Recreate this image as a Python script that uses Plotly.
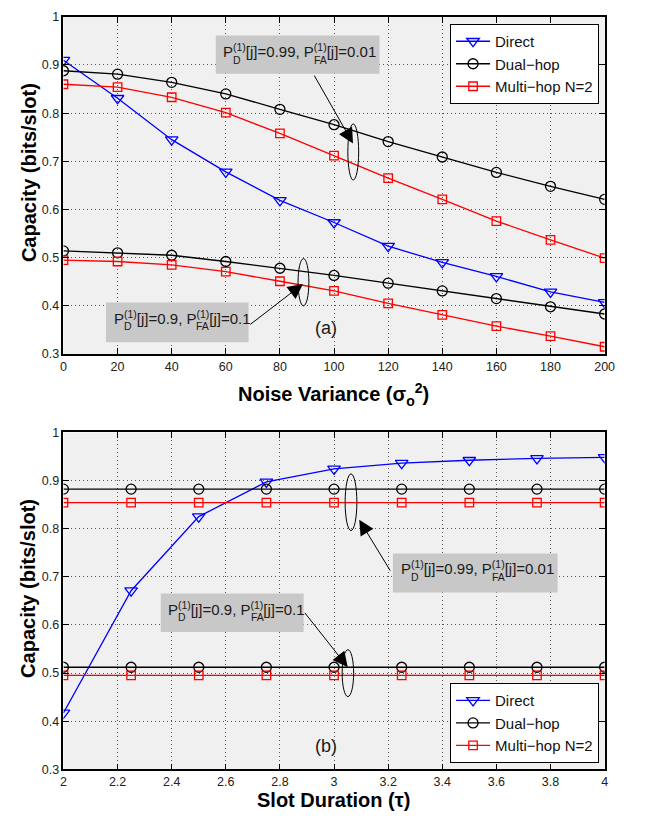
import plotly.graph_objects as go

# ---------------- data ----------------
noise_var = [0, 20, 40, 60, 80, 100, 120, 140, 160, 180, 200]
direct_a = [0.910, 0.831, 0.745, 0.678, 0.619, 0.573, 0.524, 0.490, 0.461, 0.429, 0.407]
dual_a_hi = [0.888, 0.881, 0.864, 0.840, 0.808, 0.776, 0.741, 0.709, 0.677, 0.648, 0.621]
multi_a_hi = [0.860, 0.854, 0.833, 0.801, 0.758, 0.712, 0.665, 0.621, 0.576, 0.537, 0.499]
dual_a_lo = [0.514, 0.510, 0.505, 0.492, 0.478, 0.463, 0.447, 0.431, 0.415, 0.398, 0.383]
multi_a_lo = [0.495, 0.492, 0.485, 0.471, 0.451, 0.431, 0.405, 0.381, 0.358, 0.337, 0.315]

slot_dur = [2, 2.25, 2.5, 2.75, 3, 3.25, 3.5, 3.75, 4]
direct_b = [0.417, 0.671, 0.825, 0.897, 0.924, 0.936, 0.942, 0.946, 0.948]
dual_b_hi = [0.882, 0.882, 0.882, 0.882, 0.882, 0.882, 0.882, 0.882, 0.882]
multi_b_hi = [0.854, 0.854, 0.854, 0.854, 0.854, 0.854, 0.854, 0.854, 0.854]
dual_b_lo = [0.512, 0.512, 0.512, 0.512, 0.512, 0.512, 0.512, 0.512, 0.512]
multi_b_lo = [0.495, 0.495, 0.495, 0.495, 0.495, 0.495, 0.495, 0.495, 0.495]

series_names = ["Direct", "Dual\u2212hop", "Multi\u2212hop N=2"]
yticks = [0.3, 0.4, 0.5, 0.6, 0.7, 0.8, 0.9, 1.0]
ytick_text = ["0.3", "0.4", "0.5", "0.6", "0.7", "0.8", "0.9", "1"]
xticks_a = [0, 20, 40, 60, 80, 100, 120, 140, 160, 180, 200]
xticks_b = [2, 2.2, 2.4, 2.6, 2.8, 3, 3.2, 3.4, 3.6, 3.8, 4]
xtick_text_b = ["2", "2.2", "2.4", "2.6", "2.8", "3", "3.2", "3.4", "3.6", "3.8", "4"]

W, H = 645, 821


def px(x):
    return x / W


def py(y):
    return 1 - y / H


ARIAL = "Liberation Sans, Arial, Helvetica, sans-serif"

fig = go.Figure()

styles = [
    dict(color="#0000ff", symbol="triangle-down-open", size=11),
    dict(color="#000000", symbol="circle-open", size=10),
    dict(color="#ff0000", symbol="square-open", size=8.5),
]


def add(x, y, k, xa, ya, legend, show):
    s = styles[k]
    fig.add_trace(go.Scatter(
        x=x, y=y, mode="lines+markers", name=series_names[k],
        xaxis=xa, yaxis=ya, legend=legend, showlegend=show,
        line=dict(color=s["color"], width=1.3),
        marker=dict(symbol=s["symbol"], size=s["size"], color=s["color"],
                    line=dict(color=s["color"], width=1.3)),
    ))


add(noise_var, direct_a, 0, "x", "y", "legend", True)
add(noise_var, dual_a_hi, 1, "x", "y", "legend", True)
add(noise_var, multi_a_hi, 2, "x", "y", "legend", True)
add(noise_var, dual_a_lo, 1, "x", "y", "legend", False)
add(noise_var, multi_a_lo, 2, "x", "y", "legend", False)

add(slot_dur, direct_b, 0, "x2", "y2", "legend2", True)
add(slot_dur, dual_b_hi, 1, "x2", "y2", "legend2", True)
add(slot_dur, multi_b_hi, 2, "x2", "y2", "legend2", True)
add(slot_dur, dual_b_lo, 1, "x2", "y2", "legend2", False)
add(slot_dur, multi_b_lo, 2, "x2", "y2", "legend2", False)

xdom = [px(61.7), px(614)]
ydom_a = [py(353), py(10)]
ydom_b = [py(775.5), py(432.7)]

axcommon = dict(
    showline=True, linecolor="black", linewidth=1.5, mirror="ticks",
    ticks="inside", ticklen=6, tickcolor="black", tickwidth=1,
    showgrid=True, gridcolor="#555555", gridwidth=1, griddash="1px,3px",
    zeroline=False, tickfont=dict(family=ARIAL, size=12.5, color="#222222"),
)

legfont = dict(family=ARIAL, size=15, color="#111111")
fig.update_layout(
    width=W, height=H,
    margin=dict(l=0, r=0, t=0, b=0),
    paper_bgcolor="white", plot_bgcolor="#f0f0f0",
    xaxis=dict(domain=xdom, anchor="y", range=[0, 200], tickvals=xticks_a, **axcommon),
    yaxis=dict(domain=ydom_a, anchor="x", range=[0.3, 1.0], tickvals=yticks,
               ticktext=ytick_text, **axcommon),
    xaxis2=dict(domain=xdom, anchor="y2", range=[2, 4], tickvals=xticks_b,
                ticktext=xtick_text_b, **axcommon),
    yaxis2=dict(domain=ydom_b, anchor="x2", range=[0.3, 1.0], tickvals=yticks,
                ticktext=ytick_text, **axcommon),
    legend=dict(x=px(608.3), xanchor="right", y=py(17.3), yanchor="top",
                bgcolor="white", bordercolor="black", borderwidth=1,
                font=legfont, itemwidth=34, tracegroupgap=0),
    legend2=dict(x=px(608.3), xanchor="right", y=py(769.3), yanchor="bottom",
                 bgcolor="white", bordercolor="black", borderwidth=1,
                 font=legfont, itemwidth=34, tracegroupgap=0),
    showlegend=True,
)

BOXC = "#c8c8c8"
shapes = []
annotations = []


def box(xr, yr, x0, x1, y0, y1):
    shapes.append(dict(type="rect", xref=xr, yref=yr, x0=x0, x1=x1, y0=y0, y1=y1,
                       fillcolor=BOXC, line=dict(width=0), layer="above"))


def ellipse(xr, yr, x0, x1, y0, y1):
    shapes.append(dict(type="circle", xref=xr, yref=yr, x0=x0, x1=x1, y0=y0, y1=y1,
                       line=dict(color="black", width=1), layer="above"))


def arrow(xr, yr, tx, ty, sx, sy):
    annotations.append(dict(xref=xr, yref=yr, axref=xr, ayref=yr, x=tx, y=ty, ax=sx, ay=sy,
                            text="", showarrow=True, arrowhead=2, arrowsize=3,
                            arrowwidth=1, arrowcolor="black", standoff=0))


def label(xr, yr, x, y, pd, pfa, second_offset):
    fnt = dict(family=ARIAL, size=15, color="#1a1a1a")
    sfnt = dict(family=ARIAL, size=10.5, color="#1a1a1a")
    annotations.append(dict(xref=xr, yref=yr, x=x, y=y, xanchor="left", yanchor="middle",
                            showarrow=False, font=fnt, yshift=2,
                            text="P<sup>(1)</sup>[j]=%s, P<sup>(1)</sup>[j]=%s" % (pd, pfa)))
    annotations.append(dict(xref=xr, yref=yr, x=x, y=y, xanchor="left", yanchor="middle",
                            showarrow=False, font=sfnt, text="D", xshift=10.0, yshift=-7))
    annotations.append(dict(xref=xr, yref=yr, x=x, y=y, xanchor="left", yanchor="middle",
                            showarrow=False, font=sfnt, text="FA",
                            xshift=second_offset + 10.0, yshift=-7))


# ---- panel (a) ----
box("x", "y", 56.3, 116.8, 0.882, 0.961)
label("x", "y", 58.33, 0.9255, "0.99", "0.01", 80.8)
ellipse("x", "y", 105.1, 109.1, 0.6612, 0.7776)
arrow("x", "y", 107.0, 0.737, 92.4, 0.881)

box("x", "y", 15.7, 68.4, 0.3245, 0.4067)
label("x", "y", 17.86, 0.3724, "0.9", "0.1", 72.4)
ellipse("x", "y", 86.7, 90.7, 0.400, 0.498)
arrow("x", "y", 88.5, 0.4455, 68.5, 0.359)

annotations.append(dict(xref="x", yref="y", x=97.2, y=0.353, text="(a)", showarrow=False,
                        xanchor="center", yanchor="middle",
                        font=dict(family=ARIAL, size=18, color="#1a1a1a")))

# ---- panel (b) ----
box("x2", "y2", 3.2174, 3.826, 0.6673, 0.7484)
label("x2", "y2", 3.2402, 0.7147, "0.99", "0.01", 80.8)
ellipse("x2", "y2", 3.041, 3.0844, 0.7959, 0.9137)
arrow("x2", "y2", 3.093, 0.8184, 3.211, 0.7096)

box("x2", "y2", 2.3598, 2.8877, 0.5851, 0.6653)
label("x2", "y2", 2.3804, 0.63, "0.9", "0.1", 72.4)
ellipse("x2", "y2", 3.030, 3.0725, 0.451, 0.5484)
arrow("x2", "y2", 3.0507, 0.5122, 2.8877, 0.628)

annotations.append(dict(xref="x2", yref="y2", x=2.972, y=0.348, text="(b)", showarrow=False,
                        xanchor="center", yanchor="middle",
                        font=dict(family=ARIAL, size=18, color="#1a1a1a")))

# ---- axis titles ----
tfont = dict(family=ARIAL, size=20, color="black")
common_t = dict(xref="paper", yref="paper", showarrow=False, font=tfont,
                xanchor="center", yanchor="middle")
annotations.append(dict(x=px(26), y=py(168.5), textangle=-90,
                        text="<b>Capacity (bits/slot)</b>", **common_t))
annotations.append(dict(x=px(26), y=py(591.5), textangle=-90,
                        text="<b>Capacity (bits/slot)</b>", **common_t))
annotations.append(dict(x=px(337.5), y=py(394),
                        text="<b>Noise Variance (\u03c3<sub>o</sub><sup>2</sup>)</b>", **common_t))
annotations.append(dict(x=px(337.5), y=py(807),
                        text="<b>Slot Duration (\u03c4)</b>", **common_t))

fig.update_layout(shapes=shapes, annotations=annotations)

# remove the browser's default 8px page margin so the figure fills the window exactly
fig.write_html("out.html",
               config={"displayModeBar": False},
               post_script="document.body.style.margin='0';document.body.style.overflow='hidden';")
